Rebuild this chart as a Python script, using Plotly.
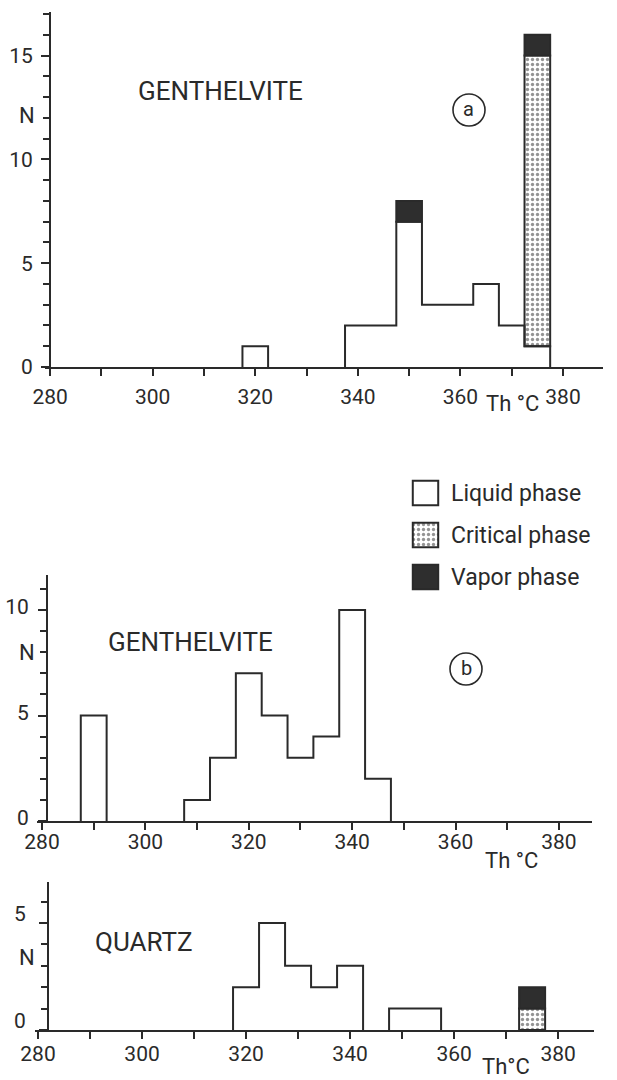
import plotly.graph_objects as go

W, H = 617, 1080

# ---------------- data ----------------
bin_width = 5

a_centers = [320, 325, 330, 335, 340, 345, 350, 355, 360, 365, 370, 375]
a_liquid = [1, 0, 0, 0, 2, 2, 7, 3, 3, 4, 2, 1]
a_critical = [0, 0, 0, 0, 0, 0, 0, 0, 0, 0, 0, 14]
a_vapor = [0, 0, 0, 0, 0, 0, 1, 0, 0, 0, 0, 1]

b_centers = [290, 295, 300, 305, 310, 315, 320, 325, 330, 335, 340, 345]
b_liquid = [5, 0, 0, 0, 1, 3, 7, 5, 3, 4, 10, 2]

q_centers = [320, 325, 330, 335, 340, 345, 350, 355, 360, 365, 370, 375]
q_liquid = [2, 5, 3, 2, 3, 0, 1, 1, 0, 0, 0, 0]
q_critical = [0, 0, 0, 0, 0, 0, 0, 0, 0, 0, 0, 1]
q_vapor = [0, 0, 0, 0, 0, 0, 0, 0, 0, 0, 0, 1]

x_tick_vals = [280, 290, 300, 310, 320, 330, 340, 350, 360, 370, 380]
x_tick_text = ["280", "", "300", "", "320", "", "340", "", "360", "", "380"]
legend_labels = ["Liquid phase", "Critical phase", "Vapor phase"]
panel_titles = ["GENTHELVITE", "GENTHELVITE", "QUARTZ"]
panel_letters = ["a", "b"]
axis_titles = ["Th °C", "Th °C", "Th°C"]

# ---------------- style ----------------
INK = "#2a2a2a"
VAPOR = "#2e2e2e"
FONT = "Roboto"
LW = 2


def px(p):
    return p / W


def py(p):
    return 1 - p / H


def step_segments(centers, heights, w):
    """Step outline for each run of non-empty bins, runs separated by None."""
    xs, ys = [], []
    run = []
    for c, h in list(zip(centers, heights)) + [(None, 0)]:
        if h > 0:
            run.append((c, h))
            continue
        if run:
            xs.append(run[0][0] - w / 2)
            ys.append(0)
            for rc, rh in run:
                xs.append(rc - w / 2)
                ys.append(rh)
            xs.append(run[-1][0] + w / 2)
            ys.append(0)
            xs.append(None)
            ys.append(None)
            run = []
    return xs, ys


fig = go.Figure()

critical_pattern = dict(shape=".", fgcolor=INK, bgcolor="white", size=5, solidity=0.35)


def add_panel(idx, centers, liquid, critical=None, vapor=None):
    xa = "x" if idx == 1 else f"x{idx}"
    ya = "y" if idx == 1 else f"y{idx}"
    xs, ys = step_segments(centers, liquid, bin_width)
    fig.add_trace(go.Scatter(x=xs, y=ys, mode="lines", line=dict(color=INK, width=LW, shape="hv"),
                             connectgaps=False, xaxis=xa, yaxis=ya, showlegend=False, hoverinfo="skip"))
    if critical is not None:
        sel = [i for i, v in enumerate(critical) if v > 0]
        fig.add_trace(go.Bar(x=[centers[i] for i in sel], y=[critical[i] for i in sel],
                             base=[liquid[i] for i in sel], width=bin_width,
                             marker=dict(color="white", pattern=critical_pattern,
                                         line=dict(color=INK, width=LW)),
                             xaxis=xa, yaxis=ya, showlegend=False))
    if vapor is not None:
        crit = critical if critical is not None else [0] * len(vapor)
        sel = [i for i, v in enumerate(vapor) if v > 0]
        fig.add_trace(go.Bar(x=[centers[i] for i in sel], y=[vapor[i] for i in sel],
                             base=[liquid[i] + crit[i] for i in sel], width=bin_width,
                             marker=dict(color=VAPOR, line=dict(color=INK, width=LW)),
                             xaxis=xa, yaxis=ya, showlegend=False))


add_panel(1, a_centers, a_liquid, a_critical, a_vapor)
add_panel(2, b_centers, b_liquid)
add_panel(3, q_centers, q_liquid, q_critical, q_vapor)

# legend swatches (drawn on a hidden axis)
fig.add_trace(go.Bar(y=[0], x=[1], base=0, orientation="h", width=0.58,
                     marker=dict(color="white", line=dict(color=INK, width=LW)),
                     xaxis="x4", yaxis="y4", showlegend=False))
fig.add_trace(go.Bar(y=[1], x=[1], base=0, orientation="h", width=0.58,
                     marker=dict(color="white", pattern=critical_pattern, line=dict(color=INK, width=LW)),
                     xaxis="x4", yaxis="y4", showlegend=False))
fig.add_trace(go.Bar(y=[2], x=[1], base=0, orientation="h", width=0.58,
                     marker=dict(color=VAPOR, line=dict(color=INK, width=LW)),
                     xaxis="x4", yaxis="y4", showlegend=False))

tickfont = dict(family=FONT, size=21, color=INK)


def xaxis_cfg(dom, rng, anchor, standoff):
    return dict(domain=dom, range=rng, anchor=anchor, showline=True, linecolor=INK, linewidth=LW,
                ticks="outside", ticklen=7, tickwidth=LW, tickcolor=INK,
                tickvals=x_tick_vals, ticktext=x_tick_text, tickfont=tickfont,
                ticklabelstandoff=standoff, showgrid=False, zeroline=False, fixedrange=True,
                automargin=False)


def yaxis_cfg(dom, rng, pos, vals, standoff=4, shift=0):
    return dict(domain=dom, range=rng, anchor="free", position=pos, showline=True, linecolor=INK,
                linewidth=LW, ticks="outside", ticklen=8, tickwidth=LW, tickcolor=INK,
                tickvals=vals, ticktext=[str(v) for v in vals], tickfont=tickfont,
                ticklabelstandoff=standoff, ticklabelshift=shift,
                minor=dict(dtick=1, tick0=0, ticks="outside", ticklen=6, tickwidth=LW, tickcolor=INK),
                showgrid=False, zeroline=False, fixedrange=True, automargin=False)


fig.update_layout(
    width=W, height=H, margin=dict(l=0, r=0, t=0, b=0, autoexpand=False),
    paper_bgcolor="white", plot_bgcolor="rgba(0,0,0,0)",
    showlegend=False, barmode="overlay",
    xaxis=xaxis_cfg([px(45), px(603)], [279, 387.8], "y", 3),
    yaxis=yaxis_cfg([py(367), py(12)], [0, 17.1], px(50), [0, 5, 10, 15], 4, 0),
    xaxis2=xaxis_cfg([px(37), px(592)], [279.03, 386.4], "y2", -6),
    yaxis2=yaxis_cfg([py(821), py(575)], [0, 11.66], px(47), [0, 5, 10], 5, -3),
    xaxis3=xaxis_cfg([px(35), px(594)], [279.42, 386.9], "y3", -3),
    yaxis3=yaxis_cfg([py(1030), py(882)], [0, 6.92], px(48), [0, 5], 9, -9),
    xaxis4=dict(domain=[px(411), px(440)], range=[-0.07, 1.07], anchor="y4", visible=False,
                fixedrange=True, automargin=False),
    yaxis4=dict(domain=[py(598), py(472)], range=[2.5, -0.5], anchor="x4", side="right",
                tickvals=[0, 1, 2], ticktext=legend_labels, ticks="", showline=False, showgrid=False,
                zeroline=False, ticklabelstandoff=10, fixedrange=True, automargin=False,
                tickfont=dict(family=FONT, size=23, color=INK)),
)


def ann(text, x, y, size=22, xanchor="center"):
    fig.add_annotation(text=text, x=px(x), y=py(y), xref="paper", yref="paper", showarrow=False,
                       xanchor=xanchor, yanchor="middle", font=dict(family=FONT, size=size, color=INK))


ann(panel_titles[0], 220, 91, 26)
ann(panel_titles[1], 190, 642, 26)
ann(panel_titles[2], 144, 942, 26)
for yy in (115, 652, 957):
    ann("N", 27, yy, 22)
ann(axis_titles[0], 512, 404, 22)
ann(axis_titles[1], 511, 860, 22)
ann(axis_titles[2], 506, 1066, 22)

for letter, (cx, cy) in zip(panel_letters, [(469, 110), (466, 669)]):
    fig.add_shape(type="circle", xref="paper", yref="paper", x0=px(cx - 16), x1=px(cx + 16),
                  y0=py(cy + 16), y1=py(cy - 16), line=dict(color=INK, width=1.6))
    ann(letter, cx, cy - 1, 20)

# remove the page's default body margin so the figure sits at the window origin
fig.write_html("out.html", config={"displayModeBar": False},
               post_script="document.body.style.margin='0';")
